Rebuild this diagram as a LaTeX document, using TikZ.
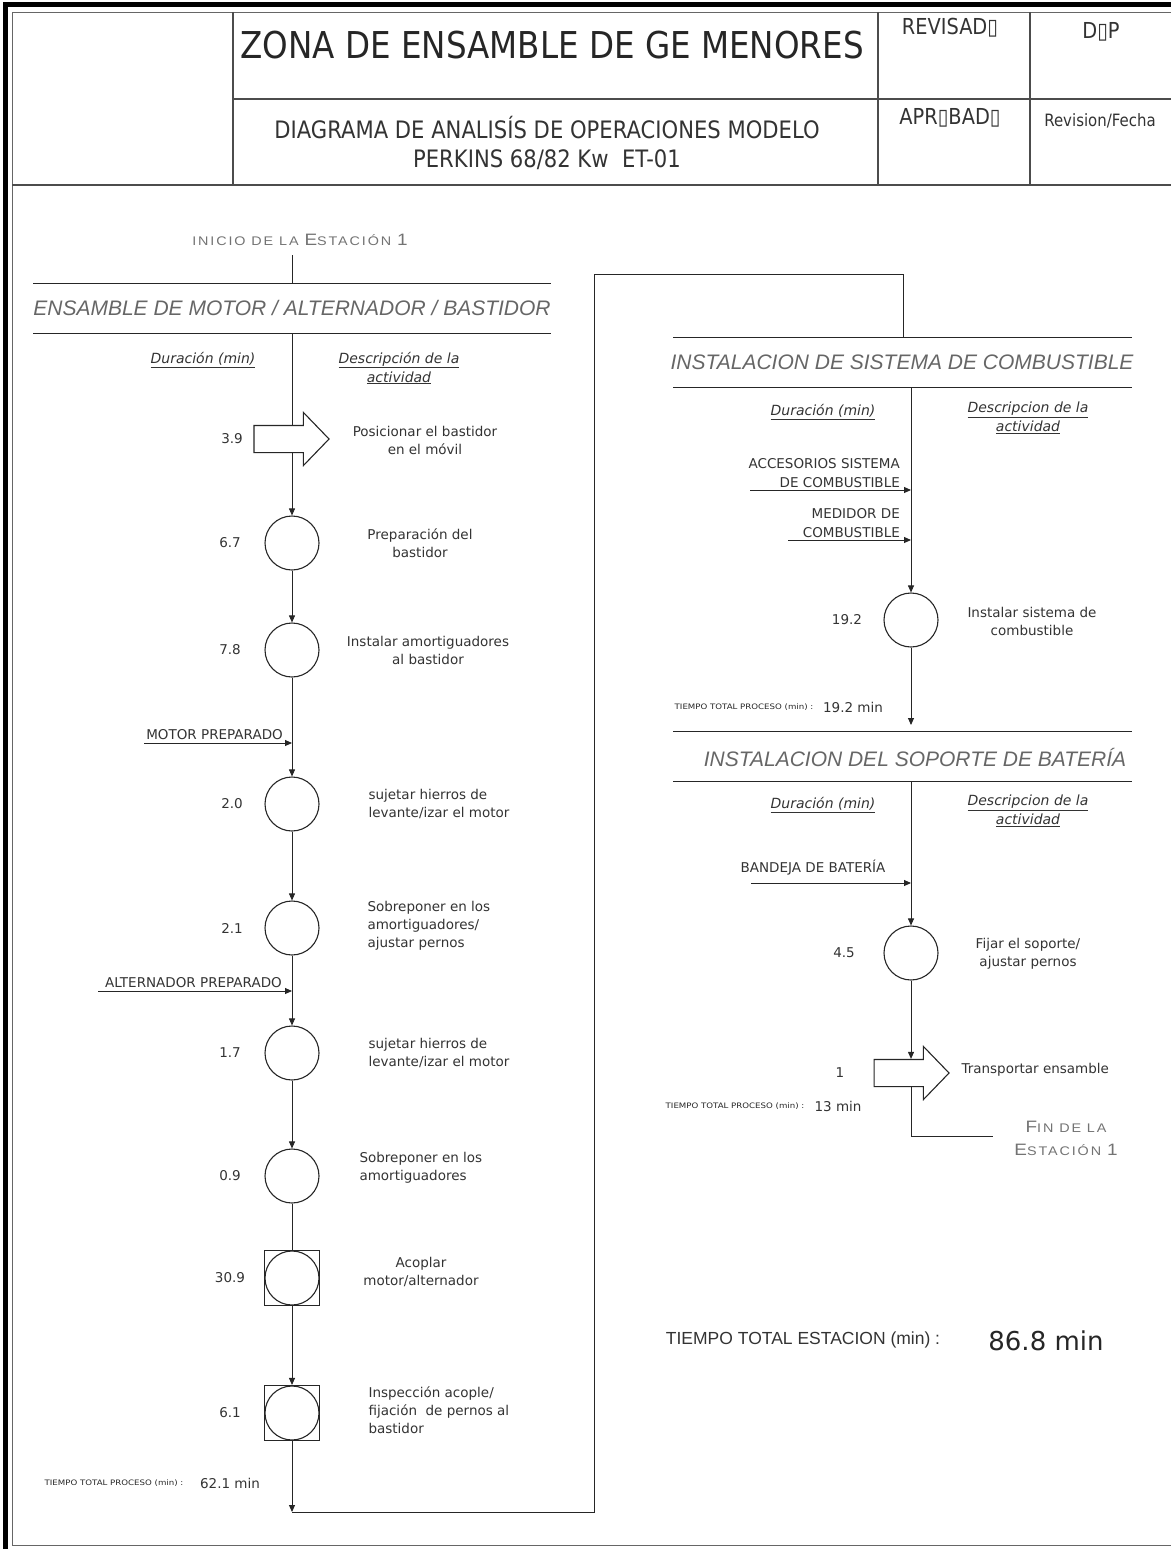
\documentclass[tikz,border=0pt]{standalone}
\usepackage{fontspec}
\setmainfont{DejaVu Sans}
\newfontfamily\cabfont[FakeStretch=0.88]{DejaVu Sans}
\newfontfamily\arialfont{Liberation Sans}
\newfontfamily\gotfont[FakeStretch=1.15,LetterSpace=15]{Liberation Sans}
\newfontfamily\chicafont[FakeStretch=1.15]{DejaVu Sans}
\usetikzlibrary{arrows.meta,shapes.arrows}

\newcommand{\fs}[1]{\fontsize{#1}{#1}\selectfont}
\newcommand{\grande}[1]{{\fs{16.5}#1}}

\tikzset{
  linea/.style={line width=0.9pt, draw=black!85},
  flecha/.style={linea, -{Triangle[length=7pt,width=6pt]}},
  oper/.style={circle, draw=black!85, line width=1.1pt, fill=white, minimum size=54pt, inner sep=0pt},
  insp/.style={rectangle, draw=black!85, line width=1.1pt, fill=white, minimum size=55pt, inner sep=0pt},
  transp/.style={single arrow, draw=black!85, line width=1.1pt, fill=white, minimum height=75pt,
    minimum width=52pt, single arrow head extend=13pt, single arrow tip angle=92,
    inner xsep=0pt, inner ysep=13pt},
  tiempo/.style={font=\fs{13.5}, text=black!80},
  desc/.style={font=\fontsize{13.5}{18}\selectfont, text=black!80, align=center},
  descizq/.style={desc, align=left, anchor=west},
  titulo/.style={font=\arialfont\itshape\fs{21}, text=black!60},
  colhead/.style={font=\itshape\fontsize{14}{19}\selectfont, text=black!80, align=center},
  entrada/.style={font=\fontsize{13.5}{19}\selectfont, text=black!80, inner sep=1pt},
  total/.style={font=\chicafont\fs{7.5}, text=black!85},
  rotulo/.style={font=\gotfont\fontsize{12.5}{23}\selectfont, text=black!55, align=center},
  marco/.style={line width=1.2pt, draw=black!70}
}

\begin{document}
\begin{tikzpicture}[x=1pt,y=-1pt]
\useasboundingbox (0,0) rectangle (1171,1549);

% marco exterior
\draw[line width=5pt] (5,1549) -- (5,5) -- (1171,5);
\draw[black!60, line width=0.8pt] (12,1545) -- (12,12) -- (1171,12);
\draw[black!60, line width=0.8pt] (12,1545) -- (1171,1545);

% cajetin
\draw[marco] (233,12) -- (233,185);
\draw[marco] (878,12) -- (878,185);
\draw[marco] (1030,12) -- (1030,185);
\draw[marco] (233,99) -- (1171,99);
\draw[marco] (12,185) -- (1171,185);
\node[font=\cabfont\fs{37}, text=black!85] (zona) at (552,45) {ZONA DE ENSAMBLE DE GE MENORES};
\node[font=\cabfont\fontsize{24}{29}\selectfont, text=black!80, align=center] (diag) at (547,143)
  {DIAGRAMA DE ANALISÍS DE OPERACIONES MODELO\\PERKINS 68/82 Kw\ \ ET-01};
\node[font=\cabfont\fs{22}, text=black!80] (rev) at (950,28) {REVISAD▯};
\node[font=\cabfont\fs{22}, text=black!80] (dop) at (1101,32) {D▯P};
\node[font=\cabfont\fs{22}, text=black!80] (apr) at (950,118) {APR▯BAD▯};
\node[font=\cabfont\fs{17}, text=black!80] (fecha) at (1100,121) {Revision/Fecha};

% seccion 1: motor / alternador / bastidor
\node[rotulo] (inicio) at (300,240) {INICIO DE LA \grande{E}STACIÓN \grande{1}};
\coordinate (ini) at (292,255);
\coordinate (s1a) at (292,283);
\coordinate (s1b) at (292,333);
\draw[linea] (33,283) -- (551,283);
\draw[linea] (33,333) -- (551,333);
\node[titulo] (tit1) at (292,308) {ENSAMBLE DE MOTOR / ALTERNADOR / BASTIDOR};
\node[colhead] (dur1) at (203,360) {\underline{Duración (min)}};
\node[colhead] (des1) at (399,368) {\underline{Descripción de la}\\\underline{actividad}};

\node[transp] (t1) at (285,439) {};
\node[tiempo] (n1) at (232,439) {3.9};
\node[desc] (d1) at (425,440) {Posicionar el bastidor\\en el móvil};

\node[oper] (o1) at (292,543) {};
\node[tiempo] (n2) at (230,543) {6.7};
\node[desc] (d2) at (420,543) {Preparación del\\bastidor};

\node[oper] (o2) at (292,650) {};
\node[tiempo] (n3) at (230,650) {7.8};
\node[desc] (d3) at (428,650) {Instalar amortiguadores\\al bastidor};

\coordinate (m1) at (144,743);
\coordinate (j1) at (292,743);
\node[entrada, anchor=south east] (e1) at (284,741) {MOTOR PREPARADO};

\node[oper] (o3) at (292,804) {};
\node[tiempo] (n4) at (232,804) {2.0};
\node[descizq] (d4) at (365,804) {sujetar hierros de\\levante/izar el motor};

\node[oper] (o4) at (292,928) {};
\node[tiempo] (n5) at (232,928) {2.1};
\node[descizq] (d5) at (364,926) {Sobreponer en los\\amortiguadores/\\ajustar pernos};

\coordinate (m2) at (98,991);
\coordinate (j2) at (292,991);
\node[entrada, anchor=south east] (e2) at (283,989) {ALTERNADOR PREPARADO};

\node[oper] (o5) at (292,1053) {};
\node[tiempo] (n6) at (230,1053) {1.7};
\node[descizq] (d6) at (365,1053) {sujetar hierros de\\levante/izar el motor};

\node[oper] (o6) at (292,1176) {};
\node[tiempo] (n7) at (230,1176) {0.9};
\node[descizq] (d7) at (356,1168) {Sobreponer en los\\amortiguadores};

\node[insp] (q1) at (292,1278) {};
\node[oper] (o7) at (292,1278) {};
\node[tiempo] (n8) at (230,1278) {30.9};
\node[desc] (d8) at (421,1272) {Acoplar\\motor/alternador};

\node[insp] (q2) at (292,1413) {};
\node[oper] (o8) at (292,1413) {};
\node[tiempo] (n9) at (230,1413) {6.1};
\node[descizq] (d9) at (365,1410) {Inspección acople/\\fijación\ \ de pernos al\\bastidor};

\node[total] (tt1) at (114,1483) {TIEMPO TOTAL PROCESO (min) :};
\node[tiempo] (v1) at (230,1483) {62.1 min};
\coordinate (fin1) at (292,1512);

% paso a la segunda columna
\coordinate (c1) at (594,1512);
\coordinate (c2) at (594,274);
\coordinate (c3) at (903,274);
\coordinate (c4) at (903,337);

\draw[linea] (ini) -- (s1a);
\draw[linea] (s1b) -- (s1b |- t1.north);
\draw[flecha] (s1b |- t1.south) -- (o1);
\draw[flecha] (o1) -- (o2);
\draw[flecha] (o2) -- (o3);
\draw[flecha] (m1) -- (j1);
\draw[flecha] (o3) -- (o4);
\draw[flecha] (o4) -- (o5);
\draw[flecha] (m2) -- (j2);
\draw[flecha] (o5) -- (o6);
\draw[linea] (o6) -- (q1);
\draw[flecha] (q1) -- (q2);
\draw[flecha] (q2) -- (fin1);
\draw[linea] (fin1) -- (c1) -- (c2) -- (c3) -- (c4);

% seccion 2: sistema de combustible
\draw[linea] (673,337) -- (1132,337);
\draw[linea] (673,387) -- (1132,387);
\node[titulo] (tit2) at (902,362) {INSTALACION DE SISTEMA DE COMBUSTIBLE};
\coordinate (s2b) at (911,387);
\node[colhead] (dur2) at (823,412) {\underline{Duración (min)}};
\node[colhead] (des2) at (1028,418) {\underline{Descripcion de la}\\\underline{actividad}};

\coordinate (m3) at (750,490);
\coordinate (j3) at (911,490);
\node[entrada, anchor=south east, align=right] (e3) at (901,489) {ACCESORIOS SISTEMA\\DE COMBUSTIBLE};
\coordinate (m4) at (788,540);
\coordinate (j4) at (911,540);
\node[entrada, anchor=south east, align=right] (e4) at (901,539) {MEDIDOR DE\\COMBUSTIBLE};

\node[oper] (o9) at (911,620) {};
\node[tiempo] (n10) at (847,620) {19.2};
\node[desc] (d10) at (1032,621) {Instalar sistema de\\combustible};

\node[total] (tt2) at (744,707) {TIEMPO TOTAL PROCESO (min) :};
\node[tiempo] (v2) at (853,707) {19.2 min};
\coordinate (fin2) at (911,725);

\draw[flecha] (s2b) -- (o9);
\draw[flecha] (m3) -- (j3);
\draw[flecha] (m4) -- (j4);
\draw[flecha] (o9) -- (fin2);

% seccion 3: soporte de bateria
\draw[linea] (673,731) -- (1132,731);
\draw[linea] (673,781) -- (1132,781);
\node[titulo] (tit3) at (915,757) {INSTALACION DEL SOPORTE DE BATERÍA};
\coordinate (s3b) at (911,781);
\node[colhead] (dur3) at (823,805) {\underline{Duración (min)}};
\node[colhead] (des3) at (1028,811) {\underline{Descripcion de la}\\\underline{actividad}};

\coordinate (m5) at (751,883);
\coordinate (j5) at (911,883);
\node[entrada] (e5) at (813,868) {BANDEJA DE BATERÍA};

\node[oper] (o10) at (911,953) {};
\node[tiempo] (n11) at (844,953) {4.5};
\node[desc] (d11) at (1028,954) {Fijar el soporte/\\ajustar pernos};

\node[transp] (t2) at (905,1073) {};
\node[tiempo] (n12) at (840,1073) {1};
\node[desc, anchor=west] (d12) at (958,1070) {Transportar ensamble};

\node[total] (tt3) at (735,1106) {TIEMPO TOTAL PROCESO (min) :};
\node[tiempo] (v3) at (838,1106) {13 min};
\coordinate (fin3) at (911,1136);
\coordinate (fin4) at (993,1136);
\node[rotulo] (final) at (1066,1138) {\grande{F}IN DE LA\\\grande{E}STACIÓN \grande{1}};

\draw[flecha] (s3b) -- (o10);
\draw[flecha] (m5) -- (j5);
\draw[flecha] (o10) -- (o10 |- t2.north);
\draw[linea] (o10 |- t2.south) -- (fin3) -- (fin4);

% total de la estacion
\node[font=\arialfont\fs{17.5}, text=black!80] (tte) at (803,1340) {TIEMPO TOTAL ESTACION (min) :};
\node[font=\fs{26}, text=black!85] (vte) at (1046,1341) {86.8 min};
\end{tikzpicture}
\end{document}
